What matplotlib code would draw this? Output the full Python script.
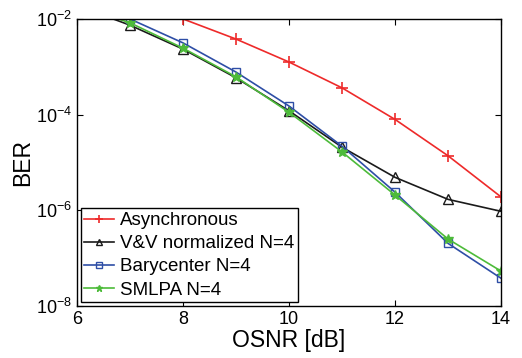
import matplotlib
matplotlib.use("Agg")
import matplotlib.pyplot as plt
import numpy as np
from matplotlib.ticker import NullLocator, FixedLocator

plt.rcParams['font.family'] = ['Liberation Sans', 'DejaVu Sans']

osnr_async = [7, 8, 9, 10, 11, 12, 13, 14]
ber_async = [10**-1.6, 10**-2.0, 10**-2.42, 10**-2.90, 10**-3.44, 10**-4.10, 10**-4.86, 10**-5.72]

osnr_vv = [6, 7, 8, 9, 10, 11, 12, 13, 14]
ber_vv = [10**-1.72, 10**-2.13, 10**-2.63, 10**-3.23, 10**-3.92, 10**-4.68, 10**-5.31, 10**-5.77, 10**-6.02]

osnr_bary = [6, 7, 8, 9, 10, 11, 12, 13, 14]
ber_bary = [10**-1.7, 10**-2.0, 10**-2.50, 10**-3.11, 10**-3.82, 10**-4.66, 10**-5.62, 10**-6.69, 10**-7.42]

osnr_smlpa = [6, 7, 8, 9, 10, 11, 12, 13, 14]
ber_smlpa = [10**-1.72, 10**-2.08, 10**-2.61, 10**-3.21, 10**-3.95, 10**-4.78, 10**-5.68, 10**-6.60, 10**-7.27]

labels = ["Asynchronous", "V&V normalized N=4", "Barycenter N=4", "SMLPA N=4"]
xticks = [6, 8, 10, 12, 14]
yticks = [1e-8, 1e-6, 1e-4, 1e-2]

fig = plt.figure(figsize=(5.22, 3.58), dpi=100)
ax = fig.add_axes([0.1475, 0.145, 0.8125, 0.802])

ax.semilogy(osnr_async, ber_async, color='#ee2a2a', marker='+', ms=8, mew=1.2, lw=1.2, label=labels[0])
ax.semilogy(osnr_vv, ber_vv, color='#1a1a1a', marker='^', ms=7, mfc='none', mew=1.0, lw=1.2, label=labels[1])
ax.semilogy(osnr_bary, ber_bary, color='#2e4ea6', marker='s', ms=6, mfc='none', mew=1.0, lw=1.2, label=labels[2])
ax.semilogy(osnr_smlpa, ber_smlpa, color='#4dbb3a', marker='*', ms=7, mew=1.0, lw=1.2, label=labels[3])

ax.set_xlim(6, 14)
ax.set_ylim(1e-8, 1e-2)
ax.xaxis.set_major_locator(FixedLocator(xticks))
ax.yaxis.set_major_locator(FixedLocator(yticks))
ax.yaxis.set_minor_locator(NullLocator())
ax.tick_params(which='both', direction='in', top=True, right=True, labelsize=13, length=4)
for s in ax.spines.values():
    s.set_linewidth(1.0)

ax.set_xlabel("OSNR [dB]", fontsize=16.5, labelpad=1)
ax.set_ylabel("BER", fontsize=16.5, labelpad=1)

leg = ax.legend(loc='lower left', fontsize=13.5, fancybox=False, edgecolor='black',
                framealpha=1, handlelength=1.6, handletextpad=0.3, borderpad=0.2,
                labelspacing=0.32, borderaxespad=0.2, markerscale=0.7)
leg.get_frame().set_linewidth(1.0)

fig.savefig("out.png", dpi=100)
